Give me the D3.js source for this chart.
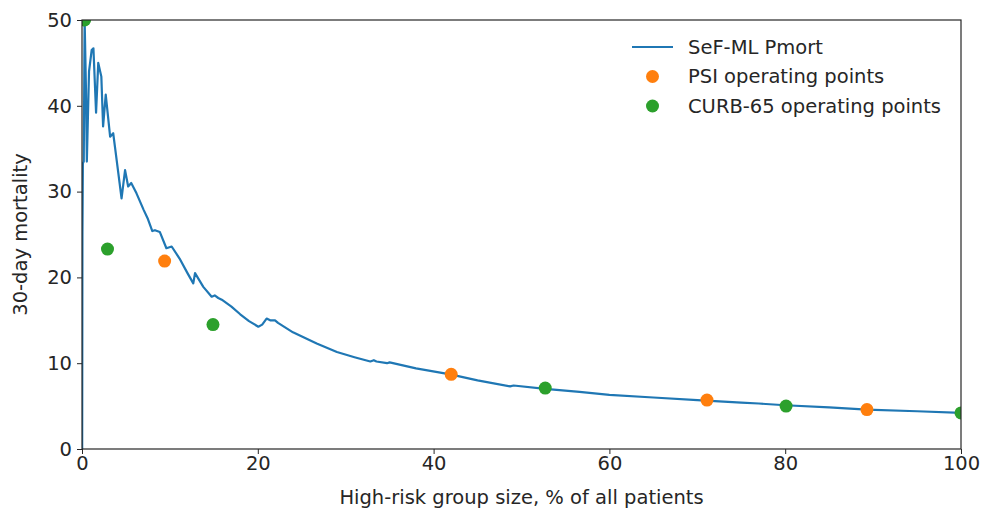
<!DOCTYPE html>
<html>
<head>
<meta charset="utf-8">
<script src="https://cdn.jsdelivr.net/npm/d3@7"></script>
<style>
    body { margin: 0; background: #fff; }
    text { font-family: 'DejaVu Sans', sans-serif; fill: #262626; }
</style>
</head>
<body>
<div id="chart"></div>
<script>
(function () {
    // SeF-ML Pmort curve: [high-risk group size %, 30-day mortality]
    var curveX = [0.02, 0.05, 0.1, 0.2, 0.3, 0.45, 0.55, 0.8, 1.1, 1.3, 1.6, 1.85, 2.2, 2.4, 2.7,
        3.2, 3.55, 3.75, 4.5, 4.9, 5.25, 5.6, 6.2, 7.0, 7.5, 8.0, 8.3, 8.85, 9.6, 10.2, 11.1,
        12.0, 12.66, 12.86, 13.8, 14.75, 15.1, 15.5, 15.9, 17, 18, 19, 20.06, 20.5, 21.0, 21.4,
        21.96, 22.3, 24, 26.7, 29, 31, 32.8, 33.2, 33.5, 34.7, 35, 38, 41.9, 45, 48.7, 49.1,
        52.7, 56.6, 60, 65, 70, 75, 77, 80, 85, 89.3, 95, 100];
    var curveY = [0, 25, 33.3, 33.5, 50, 42, 33.5, 44, 46.5, 46.7, 39.2, 45, 43.4, 37.6, 41.3,
        36.4, 36.8, 35.2, 29.2, 32.5, 30.6, 31, 29.8, 27.9, 26.8, 25.4, 25.5, 25.3, 23.4, 23.6, 22.2,
        20.5, 19.3, 20.5, 18.9, 17.75, 17.9, 17.6, 17.4, 16.6, 15.7, 14.9, 14.25, 14.5, 15.2, 15.0,
        15.0, 14.7, 13.6, 12.3, 11.3, 10.7, 10.2, 10.35, 10.2, 10.0, 10.1, 9.4, 8.7, 8.0, 7.3, 7.4,
        7.0, 6.65, 6.3, 6.0, 5.7, 5.4, 5.3, 5.1, 4.85, 4.6, 4.4, 4.2];

    var psiX = [9.4, 42, 71.1, 89.3];
    var psiY = [21.9, 8.7, 5.7, 4.6];

    var curbX = [0.3, 2.9, 14.9, 52.7, 80.1, 100];
    var curbY = [50, 23.3, 14.5, 7.1, 5.0, 4.2];

    var xTicks = [0, 20, 40, 60, 80, 100];
    var yTicks = [0, 10, 20, 30, 40, 50];

    var seriesNames = ['SeF-ML Pmort', 'PSI operating points', 'CURB-65 operating points'];
    var colors = ['#1f77b4', '#ff7f0e', '#2ca02c'];

    var width = 981;
    var height = 516;
    var margin = { top: 20, right: 20, bottom: 67, left: 82 };
    var plotW = width - margin.left - margin.right;
    var plotH = height - margin.top - margin.bottom;
    var fontSize = '19.5px';

    var svg = d3.select('#chart')
        .append('svg')
        .attr('width', width)
        .attr('height', height);

    var g = svg.append('g')
        .attr('transform', 'translate(' + margin.left + ',' + margin.top + ')');

    var x = d3.scaleLinear().domain([0, 100]).range([0, plotW]);
    var y = d3.scaleLinear().domain([0, 50]).range([plotH, 0]);

    g.append('clipPath')
        .attr('id', 'plot-clip')
        .append('rect')
        .attr('width', plotW)
        .attr('height', plotH);

    var plot = g.append('g').attr('clip-path', 'url(#plot-clip)');

    var curve = curveX.map(function(d, i) { return [d, curveY[i]]; });

    var line = d3.line()
        .x(function(d) { return x(d[0]); })
        .y(function(d) { return y(d[1]); });

    plot.append('path')
        .datum(curve)
        .attr('d', line)
        .attr('fill', 'none')
        .attr('stroke', colors[0])
        .attr('stroke-width', 2.2)
        .attr('stroke-linejoin', 'round');

    plot.selectAll('.psi')
        .data(psiX)
        .enter()
        .append('circle')
        .attr('class', 'psi')
        .attr('cx', function(d) { return x(d); })
        .attr('cy', function(d, i) { return y(psiY[i]); })
        .attr('r', 6.5)
        .attr('fill', colors[1]);

    plot.selectAll('.curb')
        .data(curbX)
        .enter()
        .append('circle')
        .attr('class', 'curb')
        .attr('cx', function(d) { return x(d); })
        .attr('cy', function(d, i) { return y(curbY[i]); })
        .attr('r', 6.5)
        .attr('fill', colors[2]);

    var xAxis = g.append('g')
        .attr('transform', 'translate(0,' + plotH + ')')
        .call(d3.axisBottom(x).tickValues(xTicks).tickSize(5).tickPadding(2));

    var yAxis = g.append('g')
        .call(d3.axisLeft(y).tickValues(yTicks).tickSize(5).tickPadding(5));

    [xAxis, yAxis].forEach(function(ax) {
        ax.select('.domain').remove();
        ax.selectAll('line').attr('stroke', '#262626').attr('stroke-width', 1);
        ax.selectAll('text')
            .style('font-family', "'DejaVu Sans', sans-serif")
            .style('font-size', fontSize)
            .attr('fill', '#262626');
    });

    g.append('rect')
        .attr('width', plotW)
        .attr('height', plotH)
        .attr('fill', 'none')
        .attr('stroke', '#262626')
        .attr('stroke-width', 1.2);

    svg.append('text')
        .attr('x', margin.left + plotW / 2)
        .attr('y', 504)
        .attr('text-anchor', 'middle')
        .style('font-size', fontSize)
        .text('High-risk group size, % of all patients');

    svg.append('text')
        .attr('transform', 'translate(27,' + (margin.top + plotH / 2) + ') rotate(-90)')
        .attr('text-anchor', 'middle')
        .style('font-size', fontSize)
        .text('30-day mortality');

    var legend = svg.selectAll('.legend')
        .data(seriesNames)
        .enter()
        .append('g')
        .attr('class', 'legend')
        .attr('transform', function(d, i) {
            return 'translate(632,' + (47 + i * 29.5) + ')';
        });

    legend.each(function(d, i) {
        var item = d3.select(this);
        if (i === 0) {
            item.append('line')
                .attr('x1', 0).attr('x2', 41)
                .attr('stroke', colors[0])
                .attr('stroke-width', 2.2);
        } else {
            item.append('circle')
                .attr('cx', 20.5)
                .attr('r', 6.5)
                .attr('fill', colors[i]);
        }
        item.append('text')
            .attr('x', 56)
            .attr('dy', '0.35em')
            .style('font-size', fontSize)
            .text(d);
    });
})();
</script>
</body>
</html>
